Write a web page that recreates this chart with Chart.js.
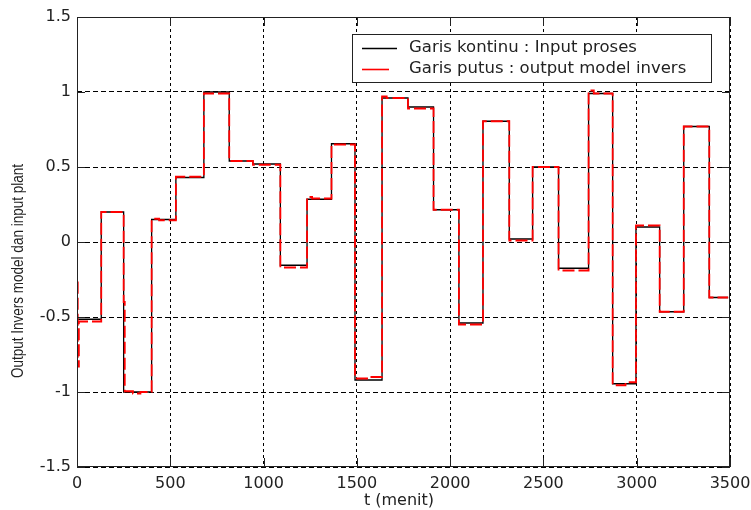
<!DOCTYPE html>
<html>
<head>
<meta charset="utf-8">
<script src="https://cdn.jsdelivr.net/npm/chart.js@4"></script>
<style>
  body { margin: 0; background: #fff; }
  canvas { display: block; }
</style>
</head>
<body>
<canvas id="plot" width="751" height="510"></canvas>
<script>
// data
const stepTimes = [0, 130, 250, 400, 530, 680, 816, 943, 1090, 1233, 1364, 1490, 1635, 1774, 1911, 2047, 2176, 2317, 2442, 2581, 2742, 2871, 2996, 3123, 3252, 3389];
const inputValues = [-0.515, 0.2, -1.0, 0.15, 0.43, 1.0, 0.54, 0.52, -0.155, 0.285, 0.655, -0.92, 0.96, 0.9, 0.215, -0.54, 0.805, 0.02, 0.5, -0.175, 0.99, -0.945, 0.1, -0.465, 0.77, -0.37];
const endTime = 3490;

const modelTimes = [0, 4, 10, 130, 250, 256, 300, 340, 400, 440, 530, 680, 816, 943, 1090, 1233, 1260, 1364, 1490, 1560, 1635, 1660, 1774, 1911, 2047, 2176, 2317, 2442, 2581, 2742, 2770, 2871, 2940, 2996, 3123, 3252, 3389];
const modelValues = [-0.27, -0.83, -0.53, 0.2, -0.4, -0.995, -1.01, -1.0, 0.155, 0.145, 0.435, 0.99, 0.54, 0.515, -0.17, 0.3, 0.29, 0.65, -0.91, -0.9, 0.97, 0.96, 0.89, 0.215, -0.55, 0.805, 0.01, 0.5, -0.19, 1.01, 0.99, -0.955, -0.935, 0.11, -0.465, 0.77, -0.37];

const legendLabels = ['Garis kontinu : Input proses', 'Garis putus : output model invers'];
const xTitle = 't (menit)';
const yTitle = 'Output Invers model dan input plant';

function toPoints(times, values) {
    const pts = times.map((t, i) => ({ x: t, y: values[i] }));
    pts.push({ x: endTime, y: values[values.length - 1] });
    return pts;
}

const ink = '#222';

// box, inward ticks, legend and axis titles, matlab style
const frame = {
    id: 'frame',
    afterDraw(chart) {
        const ctx = chart.ctx;
        const a = chart.chartArea;
        const xs = chart.scales.x, ys = chart.scales.y;
        ctx.save();
        ctx.setLineDash([]);
        ctx.strokeStyle = ink;
        ctx.lineWidth = 1;
        ctx.strokeRect(a.left + 0.5, a.top + 0.5, a.right - a.left - 1, a.bottom - a.top - 1);

        ctx.beginPath();
        xs.ticks.forEach(t => {
            const px = Math.round(xs.getPixelForValue(t.value)) + 0.5;
            ctx.moveTo(px, a.bottom); ctx.lineTo(px, a.bottom - 9);
            ctx.moveTo(px, a.top); ctx.lineTo(px, a.top + 9);
        });
        ys.ticks.forEach(t => {
            const py = Math.round(ys.getPixelForValue(t.value)) + 0.5;
            ctx.moveTo(a.left, py); ctx.lineTo(a.left + 8, py);
            ctx.moveTo(a.right, py); ctx.lineTo(a.right - 8, py);
        });
        ctx.stroke();

        // legend
        ctx.fillStyle = '#fff';
        ctx.fillRect(352, 34, 360, 49);
        ctx.strokeStyle = ink;
        ctx.strokeRect(352.5, 34.5, 359, 48);
        ctx.lineWidth = 1.3;
        ctx.strokeStyle = '#000';
        ctx.beginPath(); ctx.moveTo(362, 48.5); ctx.lineTo(397, 48.5); ctx.stroke();
        ctx.lineWidth = 1.6;
        ctx.strokeStyle = '#ff0000';
        ctx.beginPath(); ctx.moveTo(362, 69.5); ctx.lineTo(389, 69.5); ctx.stroke();
        ctx.fillStyle = ink;
        ctx.font = '16.5px "DejaVu Sans"';
        ctx.textBaseline = 'middle';
        ctx.textAlign = 'left';
        ctx.fillText(legendLabels[0], 409, 48);
        ctx.fillText(legendLabels[1], 409, 69);

        // axis titles
        ctx.font = '16px "DejaVu Sans"';
        ctx.textAlign = 'center';
        ctx.fillText(xTitle, 399, 501);
        ctx.translate(18, 271);
        ctx.rotate(-Math.PI / 2);
        ctx.scale(1, 1.25);
        ctx.font = '13.5px "Liberation Sans"';
        ctx.fillText(yTitle, 0, 0);
        ctx.restore();
    }
};

Chart.defaults.font.family = '"DejaVu Sans"';
Chart.defaults.font.size = 16;
Chart.defaults.color = ink;

new Chart(document.getElementById('plot'), {
    type: 'line',
    data: {
        datasets: [
            {
                label: legendLabels[0],
                data: toPoints(stepTimes, inputValues),
                stepped: true,
                borderColor: '#000',
                borderWidth: 1.3,
                pointRadius: 0,
                fill: false,
                order: 2
            },
            {
                label: legendLabels[1],
                data: toPoints(modelTimes, modelValues),
                stepped: true,
                borderColor: '#ff0000',
                borderWidth: 1.8,
                borderDash: [12, 4],
                pointRadius: 0,
                fill: false,
                order: 1
            }
        ]
    },
    options: {
        responsive: false,
        animation: false,
        devicePixelRatio: 1,
        layout: { padding: { left: 0, right: 21, top: 17, bottom: 0 } },
        plugins: { legend: { display: false }, tooltip: { enabled: false } },
        scales: {
            x: {
                type: 'linear',
                min: 0, max: 3500,
                ticks: { stepSize: 500, padding: 7, maxRotation: 0, callback: v => String(v) },
                grid: { color: '#000', lineWidth: 1, drawTicks: false },
                border: { display: false, dash: [3, 3] },
                afterFit(s) { s.height = 43; s.paddingLeft = 0; s.paddingRight = 0; }
            },
            y: {
                min: -1.5, max: 1.5,
                ticks: { stepSize: 0.5, padding: 6, callback: v => String(Number(v.toFixed(2))) },
                grid: { color: '#000', lineWidth: 1, drawTicks: false },
                border: { display: false, dash: [5, 3] },
                afterFit(s) { s.width = 77; s.paddingTop = 0; s.paddingBottom = 0; }
            }
        }
    },
    plugins: [frame]
});
</script>
</body>
</html>
